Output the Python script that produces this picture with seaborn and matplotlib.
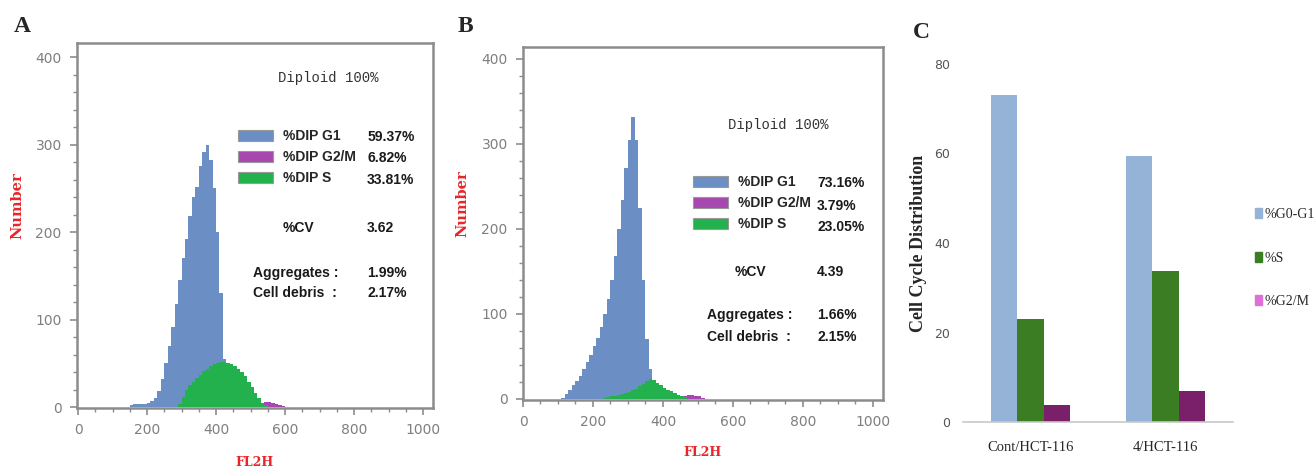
import numpy as np
import pandas as pd
import matplotlib
matplotlib.use('Agg')
import matplotlib.pyplot as plt
from matplotlib.patches import Patch
import seaborn as sns

# ---- histogram data (FL2H channel bins, width 10) ----
bin_width = 10

# panel A
a_g1_start = 150
a_g1 = [2, 3, 3, 4, 4, 5, 7, 10, 18, 32, 50, 70, 92, 118, 145, 170, 192, 218,
        240, 252, 275, 292, 300, 282, 250, 200, 130, 55, 30, 12, 4]
a_s_start = 290
a_s = [3, 12, 19, 25, 29, 33, 37, 41, 44, 47, 49, 50, 51, 51, 50, 49, 47, 44,
       40, 35, 29, 23, 16, 10, 5, 2]
a_g2_start = 530
a_g2 = [3, 6, 6, 5, 4, 2, 1]

# panel B
b_g1_start = 110
b_g1 = [1, 6, 11, 16, 21, 27, 35, 43, 52, 62, 72, 85, 100, 118, 140, 168, 200,
        234, 272, 305, 332, 305, 225, 140, 70, 35, 18, 6]
b_s_start = 230
b_s = [1, 2, 3, 4, 5, 6, 7, 8, 10, 12, 15, 18, 21, 23, 22, 19, 16, 13, 11, 9,
       7, 5, 3, 2]
b_g2_start = 460
b_g2 = [3, 5, 5, 4, 3, 1]

# fit summary
phase_labels = ['%DIP G1', '%DIP G2/M', '%DIP S']
a_values = ['59.37%', '6.82%', '33.81%']
b_values = ['73.16%', '3.79%', '23.05%']
a_cv, b_cv = '3.62', '4.39'
a_aggr, a_debris = '1.99%', '2.17%'
b_aggr, b_debris = '1.66%', '2.15%'

# panel C
groups = ['Cont/HCT-116', '4/HCT-116']
phases = ['%G0-G1', '%S', '%G2/M']
cont_vals = [73.16, 23.05, 3.79]
treated_vals = [59.37, 33.81, 6.82]

# ---- styling ----
sns.set_theme(style='white')
plt.rcParams['font.family'] = ['DejaVu Sans']

blue, purple, green = '#6b8fc5', '#a648b0', '#22b14c'
frame_col = '#8c8c8c'
tick_col = '#7f7f7f'
cond = 'Liberation Sans'

fig = plt.figure(figsize=(13.15, 4.75), dpi=100)
ax_a = fig.add_axes([77 / 1315, 1 - 408 / 475, 356 / 1315, 365 / 475])
ax_b = fig.add_axes([523 / 1315, 1 - 400 / 475, 360 / 1315, 353 / 475])
ax_c = fig.add_axes([963 / 1315, 1 - 422 / 475, 270 / 1315, 358 / 475])


def draw_hist(ax, start, counts, color):
    n = len(counts)
    hist = pd.DataFrame({
        'channel': start + bin_width / 2 + bin_width * np.arange(n),
        'count': np.array(counts, dtype=float),
    })
    sns.histplot(data=hist, x='channel', weights='count', binwidth=bin_width,
                 binrange=(start, start + bin_width * n),
                 color=color, alpha=1, linewidth=0, ax=ax)


def style_hist(ax, xlim, ylim):
    ax.set_xlim(*xlim)
    ax.set_ylim(*ylim)
    ax.set_xticks(np.arange(0, 1001, 200))
    ax.set_xticks(np.arange(0, 1001, 50), minor=True)
    ax.set_yticks(np.arange(0, 401, 100))
    ax.set_yticks(np.arange(0, 401, 20), minor=True)
    ax.tick_params(which='major', length=5, width=1.2, color=frame_col,
                   labelcolor=tick_col, labelsize=10, direction='out',
                   bottom=True, left=True, pad=6)
    ax.tick_params(which='minor', length=3, width=1, color=frame_col,
                   direction='out', bottom=True, left=True)
    for s in ax.spines.values():
        s.set_color(frame_col)
        s.set_linewidth(1.8)
    ax.set_xlabel('')
    ax.set_ylabel('')
    ax.text(0.5, -0.15, 'FL2H', transform=ax.transAxes, color='#e8262a',
            fontsize=9, fontweight='bold', family='DejaVu Serif',
            ha='center', va='center')
    ax.text(-0.168, 0.555, 'Number', transform=ax.transAxes, color='#e8262a',
            fontsize=10.5, fontweight='bold', family='DejaVu Serif',
            rotation=90, ha='center', va='center')


def summary(ax, dip_xy, leg_xy, lab_x, val_x, row_y, cv_y, ag_x, ag_y,
            values, cv, aggr, debris):
    ax.text(dip_xy[0], dip_xy[1], 'Diploid 100%', transform=ax.transAxes,
            family='Liberation Mono', fontsize=10, color='#333333',
            ha='center', va='center')
    handles = [Patch(facecolor=c, edgecolor='#999999', linewidth=0.8)
               for c in (blue, purple, green)]
    ax.legend(handles, phase_labels, loc='upper left', bbox_to_anchor=leg_xy,
              frameon=False, borderpad=0, borderaxespad=0,
              handlelength=2.5, handleheight=0.85, handletextpad=0.75,
              labelspacing=0.5,
              prop={'family': cond, 'weight': 'bold', 'size': 10})
    kw = dict(transform=ax.transAxes, family=cond, fontweight='bold',
              fontsize=10, color='#1a1a1a', va='center')
    for y, v in zip(row_y, values):
        ax.text(val_x, y, v, **kw)
    ax.text(lab_x, cv_y, '%CV', **kw)
    ax.text(val_x, cv_y, cv, **kw)
    ax.text(ag_x, ag_y[0], 'Aggregates :', **kw)
    ax.text(val_x, ag_y[0], aggr, **kw)
    ax.text(ag_x, ag_y[1], 'Cell debris  :', **kw)
    ax.text(val_x, ag_y[1], debris, **kw)


# panel A
draw_hist(ax_a, a_g1_start, a_g1, blue)
draw_hist(ax_a, a_g2_start, a_g2, purple)
draw_hist(ax_a, a_s_start, a_s, green)
style_hist(ax_a, (-3, 1029), (-1, 416))
summary(ax_a, (0.705, 0.904), (0.452, 0.764), 0.579, 0.815,
        [0.742, 0.685, 0.625], 0.493, 0.494, (0.370, 0.315),
        a_values, a_cv, a_aggr, a_debris)

# panel B
draw_hist(ax_b, b_g1_start, b_g1, blue)
draw_hist(ax_b, b_g2_start, b_g2, purple)
draw_hist(ax_b, b_s_start, b_s, green)
style_hist(ax_b, (0, 1029), (-1.2, 414))
summary(ax_b, (0.708, 0.779), (0.472, 0.637), 0.589, 0.817,
        [0.615, 0.550, 0.490], 0.363, 0.511, (0.241, 0.178),
        b_values, b_cv, b_aggr, b_debris)

# panel C
df = pd.DataFrame({
    'group': np.repeat(groups, len(phases)),
    'phase': phases * len(groups),
    'value': cont_vals + treated_vals,
})
bar_cols = ['#95b3d7', '#3a7d22', '#7a1f6a']
sns.barplot(data=df, x='group', y='value', hue='phase', hue_order=phases,
            palette=bar_cols, width=0.58, saturation=1, linewidth=0,
            legend=False, ax=ax_c)
ax_c.set_xlim(-0.5, 1.5)
ax_c.set_ylim(0, 80)
ax_c.set_yticks([0, 20, 40, 60, 80])
for side in ('left', 'right', 'top'):
    ax_c.spines[side].set_visible(False)
ax_c.spines['bottom'].set_color('#c8c8c8')
ax_c.spines['bottom'].set_linewidth(1.2)
ax_c.tick_params(axis='y', length=0, pad=9, labelcolor='#555555',
                 labelsize=9)
ax_c.tick_params(axis='x', length=0, pad=14)
for lab in ax_c.get_xticklabels():
    lab.set_family('Liberation Serif')
    lab.set_fontsize(10.5)
ax_c.set_xlabel('')
ax_c.set_ylabel('Cell Cycle Distribution', family='Liberation Serif',
                fontweight='bold', fontsize=13)
ax_c.yaxis.set_label_coords(-0.135, 0.5)
leg_handles = [Patch(color=c) for c in ('#95b3d7', '#3a7d22', '#e070d8')]
ax_c.legend(leg_handles, phases, loc='center left',
            bbox_to_anchor=(1.083, 0.458), frameon=False, borderpad=0,
            borderaxespad=0, handlelength=0.5, handleheight=0.7,
            handletextpad=0.15, labelspacing=2.2,
            prop={'family': 'Liberation Serif', 'size': 10})

# panel letters
for letter, x, y in (('A', 22, 26), ('B', 465, 26), ('C', 921, 33)):
    fig.text(x / 1315, 1 - y / 475, letter, family='Liberation Serif',
             fontweight='bold', fontsize=17, ha='center', va='center')

fig.savefig('out.png', dpi=100)
